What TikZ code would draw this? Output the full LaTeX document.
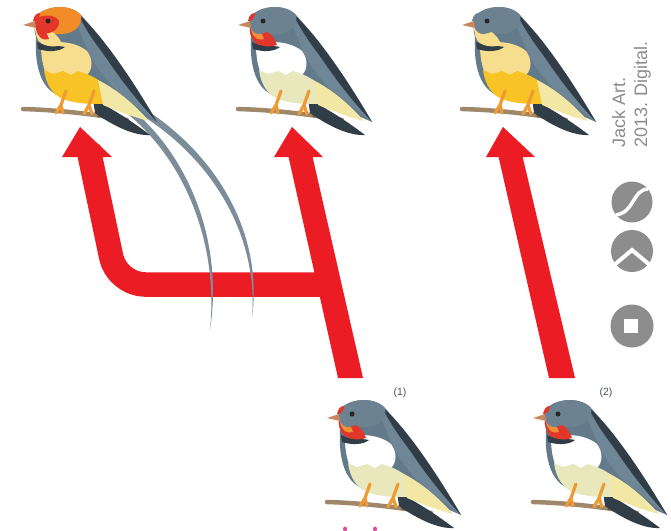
\documentclass[tikz,border=0pt]{standalone}
\usepackage{fontspec}
\setmainfont{Liberation Sans}
\definecolor{slate}{HTML}{627A89}
\definecolor{wingmid}{HTML}{6E8695}
\definecolor{slatedark}{HTML}{313D47}
\definecolor{headgray}{HTML}{6D8290}
\definecolor{facered}{HTML}{E2362A}
\definecolor{chinorange}{HTML}{F0913A}
\definecolor{caporange}{HTML}{F28C28}
\definecolor{paleyellow}{HTML}{F6DE8E}
\definecolor{deepyellow}{HTML}{F8C325}
\definecolor{cream}{HTML}{E9E7BC}
\definecolor{coverts}{HTML}{F2E7A4}
\definecolor{beakc}{HTML}{C8875E}
\definecolor{legc}{HTML}{EE9A35}
\definecolor{branchc}{HTML}{9F8769}
\definecolor{branchdark}{HTML}{6F5B45}
\definecolor{arrowred}{HTML}{EC1C24}
\definecolor{plume}{HTML}{7B8D98}
\definecolor{creditc}{HTML}{8C8C8C}
\definecolor{logogray}{HTML}{8D8D8D}
\definecolor{lblc}{HTML}{46525E}
\definecolor{pinkmark}{HTML}{E5489A}

% colour settings of one swallow
\pgfkeys{/swallow/.cd,
  cap/.store in=\swCap, mask/.store in=\swMask, brow/.store in=\swBrow,
  throat/.store in=\swThroat, chin/.store in=\swChin,
  breast/.store in=\swBreast, belly/.store in=\swBelly}

\tikzset{
  pics/swallow/.style={code={
    \pgfkeys{/swallow/.cd, cap=headgray, mask=headgray, brow=headgray,
      throat=paleyellow, chin=paleyellow, breast=paleyellow, belly=deepyellow, #1}
    % perch
    \draw[branchc, line width=4.5pt, line cap=round] (0,84) .. controls (35,85) and (70,89) .. (104,95);
    \draw[branchdark, line width=1.6pt, line cap=round] (75,91) .. controls (88,92) and (96,93) .. (104,95);
    % tail
    \fill[slatedark] (70,74) .. controls (90,84) and (110,97) .. (127,110) .. controls (112,111) and (92,102) .. (72,88) -- cycle;
    % body
    \fill[slate] (11,-4) .. controls (14,-18) and (45,-24) .. (58,-10) .. controls (72,5) and (105,50) .. (134,97)
      .. controls (118,90) and (100,82) .. (88,78) .. controls (65,80) and (35,76) .. (24,62)
      .. controls (14,50) and (12,30) .. (13,12) .. controls (12,8) and (11,4) .. (12,3) -- cycle;
    % breast and belly
    \fill[\swBreast] (18,20) .. controls (30,15) and (52,16) .. (64,26) .. controls (70,34) and (70,44) .. (64,50)
      -- (55,47) -- (48,51) -- (40,47) -- (30,50) -- (22,46) .. controls (19,38) and (18,28) .. (18,20) -- cycle;
    \fill[\swBelly] (21,45) -- (30,49) -- (40,46) -- (48,50) -- (55,46) -- (64,49) .. controls (78,55) and (90,65) .. (96,77)
      .. controls (80,80) and (55,80) .. (40,74) .. controls (30,70) and (23,60) .. (21,45) -- cycle;
    \fill[coverts] (75,55) .. controls (95,65) and (112,80) .. (126,96) .. controls (110,92) and (95,86) .. (80,80) -- cycle;
    % folded wing
    \fill[wingmid] (52,-6) .. controls (72,5) and (105,50) .. (134,97) .. controls (118,85) and (102,72) .. (92,64)
      .. controls (80,52) and (70,38) .. (64,24) .. controls (60,14) and (56,5) .. (52,-6) -- cycle;
    \fill[slatedark] (56,-10) .. controls (74,4) and (107,50) .. (134,97) .. controls (116,78) and (98,55) .. (84,34)
      .. controls (74,20) and (64,8) .. (56,-10) -- cycle;
    % collar
    \fill[slatedark] (14,17) .. controls (24,22) and (34,20) .. (42,22) .. controls (36,27) and (24,27) .. (15,24) -- cycle;
    % head
    \fill[\swCap] (11,-4) .. controls (14,-18) and (45,-24) .. (58,-10) .. controls (60,0) and (52,8) .. (40,9)
      .. controls (28,10) and (17,7) .. (12,3) -- cycle;
    \fill[\swThroat] (12,2) .. controls (22,1) and (36,8) .. (39,20) .. controls (30,23) and (19,21) .. (15,15)
      .. controls (13,11) and (12,6) .. (12,2) -- cycle;
    \fill[\swChin] (13,4) .. controls (19,4) and (25,8) .. (26,14) .. controls (20,16) and (15,13) .. (13,4) -- cycle;
    \fill[\swMask] (11,-3) .. controls (14,-11) and (32,-12) .. (36,-4) .. controls (37,4) and (28,9) .. (20,9)
      .. controls (15,8) and (12,4) .. (11,-3) -- cycle;
    \fill[\swBrow] (10,-4) .. controls (11,-10) and (14,-12) .. (17,-12) .. controls (17,-7) and (14,-4) .. (10,-4) -- cycle;
    \fill[black!85] (25,-4) circle (2.5);
    \fill[beakc] (0,0) -- (12,-4) -- (13,3) -- cycle;
    % legs
    \draw[legc, line width=3.2pt, line cap=round, line join=round]
      (43,66) -- (38,80) -- (33,88) (38,80) -- (40,88)
      (71,66) -- (66,80) -- (61,89) (66,80) -- (69,89);
  }},
  pics/swallow/.default={},
  redarrow/.style={fill=arrowred},
  credit/.style={text=creditc, font=\fontsize{18}{20}\selectfont, inner sep=0pt, rotate=90, anchor=base west},
  numlabel/.style={text=lblc, font=\fontsize{10.5}{12}\selectfont, inner sep=0pt}
}

\begin{document}
\begin{tikzpicture}[x=1pt,y=-1pt]
\useasboundingbox (0,0) rectangle (671,530);
\fill[white] (0,0) rectangle (671,530);

% arrows
\draw[arrowred, line width=24.5pt, rounded corners=28pt] (88,147) -- (117,284.5) -- (332,284.5);
\fill[redarrow] (80,127) -- (112,157) -- (62,157) -- cycle;
\fill[redarrow] (287,150) -- (311,150) -- (363,378) -- (338,378) -- cycle;
\fill[redarrow] (292,127) -- (323,157) -- (274,157) -- cycle;
\fill[redarrow] (497,150) -- (521,150) -- (575,378) -- (549,378) -- cycle;
\fill[redarrow] (503,127) -- (535,157) -- (486,157) -- cycle;

% long tail streamers of the first swallow
\fill[plume] (124,111) .. controls (183,157) and (219,241) .. (210,330) .. controls (224,239) and (187,153) .. (128,106) -- cycle;
\fill[plume] (131,109) .. controls (208,152) and (259,232) .. (252,318) .. controls (264,229) and (212,148) .. (135,103) -- cycle;

% swallows
\pic (birdA) at (23,25) {swallow={cap=caporange, mask=facered, brow=facered, throat=paleyellow, chin=facered}};
\pic (birdB) at (238,25) {swallow={brow=facered, throat=facered, chin=chinorange, breast=white, belly=cream}};
\pic (birdC) at (462,25) {swallow};
\pic (birdD) at (327,418) {swallow={brow=facered, throat=facered, chin=chinorange, breast=white, belly=cream}};
\pic (birdE) at (533,418) {swallow={brow=facered, throat=facered, chin=chinorange, breast=white, belly=cream}};

\node[numlabel] (lab1) at (400,393) {(1)};
\node[numlabel] (lab2) at (606,393) {(2)};

% credit line
\node[credit] (credA) at (625,148) {Jack Art.};
\node[credit] (credB) at (647,148) {2013. Digital.};

% licence icons
\fill[logogray] (632,202) circle (20.5);
\draw[white, line width=3.5pt] (648,189) .. controls (632,190) and (635,212) .. (616,215);
\fill[logogray] (632,251) circle (21);
\draw[white, line width=4pt] (613,266) -- (632,250) -- (651,266);
\fill[logogray] (632,326) circle (21.5);
\fill[white] (623.5,318.5) rectangle (638,333);

% marks at the lower edge
\fill[pinkmark] (345,529) ellipse (2 and 2.5);
\fill[pinkmark] (375,529) ellipse (2 and 2.5);
\end{tikzpicture}
\end{document}
